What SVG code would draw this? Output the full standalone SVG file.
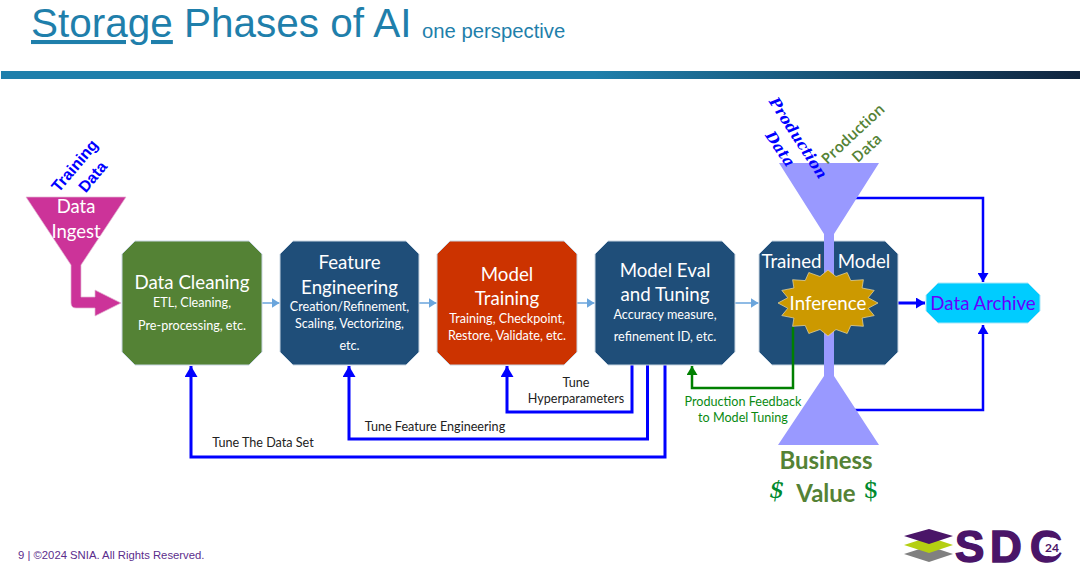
<svg xmlns="http://www.w3.org/2000/svg" width="1080" height="575" viewBox="0 0 1080 575">
<style>
.l{font-family:Lato,"Noto Sans",sans-serif;text-anchor:middle}
.h{fill:#fff;font-size:18.7px}
.s{fill:#fff;font-size:12.6px}
.k{fill:#222;font-size:12.6px}
.g{fill:#0a8a12;font-size:12.6px}
.n{stroke:#c9d6e3;stroke-width:1}
.c{fill:none;stroke:#00f;stroke-width:3}
.e{fill:none;stroke:#00f;stroke-width:2.500}
.d{fill:none;stroke:#6aa5dc;stroke-width:1.500}
</style>
<defs>
<linearGradient id="bar" x1="0" x2="1" y1="0" y2="0"><stop offset="0" stop-color="#1f7fab"/><stop offset=".55" stop-color="#1f7fab"/><stop offset="1" stop-color="#10243e"/></linearGradient>
<marker id="bl" markerUnits="userSpaceOnUse" markerWidth="13" markerHeight="13" refX="11" refY="6.500" orient="auto"><path d="M0 0L11 6.500L0 13Z" fill="#00f"/></marker>
<marker id="bs" markerUnits="userSpaceOnUse" markerWidth="10" markerHeight="11" refX="9" refY="5.500" orient="auto"><path d="M0 0L9 5.500L0 11Z" fill="#00f"/></marker>
<marker id="gr" markerUnits="userSpaceOnUse" markerWidth="10" markerHeight="11" refX="9" refY="5.500" orient="auto"><path d="M0 0L9 5.500L0 11Z" fill="#008000"/></marker>
<marker id="lt" markerUnits="userSpaceOnUse" markerWidth="9" markerHeight="10" refX="8" refY="5" orient="auto"><path d="M0 0L8 5L0 10Z" fill="#6aa5dc"/></marker>
</defs>
<rect width="1080" height="575" fill="#fff"/>
<g id="header">
<text x="31" y="37" font-family="Liberation Sans,Arial,sans-serif" font-size="40.500" fill="#1f7fab" text-decoration="underline" style="text-decoration-thickness:3px">Storage</text>
<text x="184" y="37" font-family="Liberation Sans,Arial,sans-serif" font-size="40.500" fill="#1f7fab">Phases of AI</text>
<text x="422" y="38" font-family="Liberation Sans,Arial,sans-serif" font-size="20.300" fill="#1f7fab">one perspective</text>
<rect x="1" y="71" width="1079" height="8" fill="url(#bar)"/>
</g>
<g id="connectors">
<path class="d" d="M262 303H279.500" marker-end="url(#lt)"/>
<path class="d" d="M419 303H436.500" marker-end="url(#lt)"/>
<path class="d" d="M577 303H594.500" marker-end="url(#lt)"/>
<path class="d" d="M735 303H758.500" marker-end="url(#lt)"/>
<path class="c" d="M632 365V412H507V366" marker-end="url(#bl)"/>
<path class="c" d="M647.500 365V439H349V366" marker-end="url(#bl)"/>
<path class="c" d="M665 365V457H191V366" marker-end="url(#bl)"/>
<path class="e" d="M855 198H983V282" marker-end="url(#bs)"/>
<path class="e" d="M855 410H983V325" marker-end="url(#bs)"/>
<path class="c" d="M879 303H925" marker-end="url(#bs)"/>
</g>
<g id="data-ingest">
<path d="M26 197H126L81 265V297H95V290L121 303L95 316V308H76Q71 308 71 303V265Z" fill="#cc3399" stroke="#e3b6d3" stroke-width=".7"/>
<text class="l" x="76" y="213" fill="#fff" font-size="18.500">Data</text>
<text class="l" x="76" y="238" fill="#fff" font-size="18.500">Ingest</text>
<text transform="translate(75 166) rotate(-50)" y="5" text-anchor="middle" font-family="Liberation Sans,Arial,sans-serif" font-weight="700" font-size="16" fill="#00f">Training</text>
<text transform="translate(93 177) rotate(-50)" y="5" text-anchor="middle" font-family="Liberation Sans,Arial,sans-serif" font-weight="700" font-size="16" fill="#00f">Data</text>
</g>
<g id="data-cleaning">
<path class="n" d="M135 241H249L262 254V352L249 365H135L122 352V254Z" fill="#548235"/>
<text class="l h" x="192" y="289">Data Cleaning</text>
<text class="l s" x="192" y="307">ETL, Cleaning,</text>
<text class="l s" x="192" y="330">Pre-processing, etc.</text>
</g>
<g id="feature-engineering">
<path class="n" d="M293 241H406L419 254V352L406 365H293L280 352V254Z" fill="#1f4e79"/>
<text class="l h" x="349.500" y="269">Feature</text>
<text class="l h" x="349.500" y="294">Engineering</text>
<text class="l s" x="349.500" y="311">Creation/Refinement,</text>
<text class="l s" x="349.500" y="328">Scaling, Vectorizing,</text>
<text class="l s" x="349.500" y="350">etc.</text>
</g>
<g id="model-training">
<path class="n" d="M450 241H564L577 254V352L564 365H450L437 352V254Z" fill="#cc3300"/>
<text class="l h" x="507" y="281">Model</text>
<text class="l h" x="507" y="305">Training</text>
<text class="l s" x="507" y="323">Training, Checkpoint,</text>
<text class="l s" x="507" y="340">Restore, Validate, etc.</text>
</g>
<g id="model-eval">
<path class="n" d="M608 241H722L735 254V352L722 365H608L595 352V254Z" fill="#1f4e79"/>
<text class="l h" x="665" y="277">Model Eval</text>
<text class="l h" x="665" y="301">and Tuning</text>
<text class="l s" x="665" y="319">Accuracy measure,</text>
<text class="l s" x="665" y="341">refinement ID, etc.</text>
</g>
<g id="trained-model">
<path class="n" d="M772 241H885L898 254V352L885 365H772L759 352V254Z" fill="#1f4e79"/>
<text class="l h" x="791.500" y="268">Trained</text>
<text class="l h" x="864" y="268">Model</text>
</g>
<g id="funnels">
<path d="M779 163H879L834 234V376L879 445H778L824 376V234Z" fill="#9999ff"/>
</g>
<g id="inference">
<path d="M878 303L868.200 308.300L874.200 315.600L862.100 318L863.400 326.300L850.800 325.400L847.200 333.500L836 329.500L828 336L820 329.500L808.800 333.500L805.200 325.400L792.600 326.300L793.900 318L781.800 315.600L787.800 308.300L778 303L787.800 297.700L781.800 290.400L793.900 288L792.600 279.700L805.200 280.600L808.800 272.500L820 276.500L828 270L836 276.500L847.200 272.500L850.800 280.600L863.400 279.700L862.100 288L874.200 290.400L868.200 297.700Z" fill="#cc9900" stroke="#e8d9a8" stroke-width=".7"/>
<text class="l h" x="828" y="310">Inference</text>
</g>
<g id="green-feedback">
<path d="M793 327V388H692V366" fill="none" stroke="#008000" stroke-width="2.500" marker-end="url(#gr)"/>
</g>
<g id="data-archive">
<path d="M938 283H1028L1040 295V311L1028 323H938L926 311V295Z" fill="#00ccff" stroke="#a9e6f7"/>
<text class="l" x="983" y="310" font-size="18.700" fill="#6600ff">Data Archive</text>
</g>
<g id="labels">
<text class="l k" x="576" y="387">Tune</text>
<text class="l k" x="576" y="403">Hyperparameters</text>
<text class="l k" x="435" y="431">Tune Feature Engineering</text>
<text class="l k" x="263" y="447">Tune The Data Set</text>
<text class="l g" x="743" y="406">Production Feedback</text>
<text class="l g" x="743" y="422">to Model Tuning</text>
<text transform="translate(798 138) rotate(57)" y="5" text-anchor="middle" font-family="DejaVu Serif,serif" font-style="italic" font-weight="700" font-size="15" fill="#00f">Production</text>
<text transform="translate(780 149) rotate(56)" y="5" text-anchor="middle" font-family="DejaVu Serif,serif" font-style="italic" font-weight="700" font-size="15" fill="#00f">Data</text>
<text transform="translate(853 134) rotate(-43)" y="5" text-anchor="middle" font-family="Open Sans,sans-serif" font-weight="600" font-size="15" fill="#548235">Production</text>
<text transform="translate(867 148) rotate(-43)" y="5" text-anchor="middle" font-family="Open Sans,sans-serif" font-weight="600" font-size="15" fill="#548235">Data</text>
<text class="l" x="826" y="469" font-size="24" font-weight="700" fill="#548235">Business</text>
<text class="l" x="826" y="502" font-size="24" font-weight="700" fill="#548235">Value</text>
<text x="777" y="498" text-anchor="middle" font-family="DejaVu Serif,serif" font-style="italic" font-size="24" fill="#008a2e">$</text>
<text x="871" y="498" text-anchor="middle" font-family="DejaVu Serif,serif" font-size="24" fill="#008a2e">$</text>
</g>
<g id="footer">
<text x="18" y="559" font-family="Liberation Sans,Arial,sans-serif" font-size="11.300" fill="#5b2d8c">9 | ©2024 SNIA. All Rights Reserved.</text>
<path d="M904 554L929 546L953 554L929 562Z" fill="#808080"/>
<path d="M904 545L929 537L953 545L929 553Z" fill="#b5cf12"/>
<path d="M904 536L929 529L953 536L929 544Z" fill="#4a1568"/>
<text x="955" y="562" font-family="Liberation Sans,Arial,sans-serif" font-weight="700" font-size="44" stroke="#4a1568" stroke-width="1.500" fill="#4a1568">S</text>
<text x="990" y="562" font-family="Liberation Sans,Arial,sans-serif" font-weight="700" font-size="44" stroke="#4a1568" stroke-width="1.500" fill="#4a1568">D</text>
<text x="1030" y="562" font-family="Liberation Sans,Arial,sans-serif" font-weight="700" font-size="44" stroke="#4a1568" stroke-width="1.500" fill="#4a1568">C</text>
<circle cx="1052" cy="547" r="9.500" fill="#fff"/>
<text x="1052" y="551.500" text-anchor="middle" font-family="Lato,sans-serif" font-weight="700" font-size="12" fill="#4a1568">24</text>
</g>
</svg>
